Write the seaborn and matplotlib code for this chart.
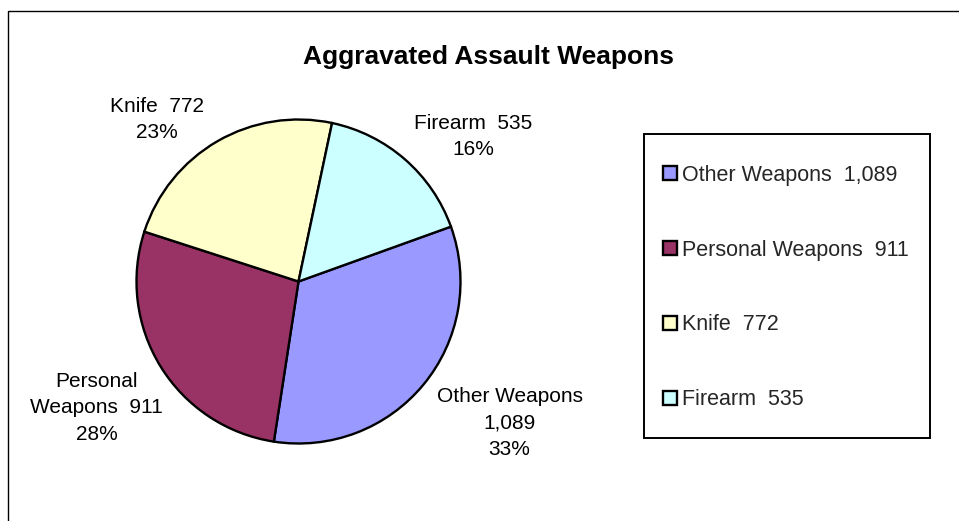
import matplotlib
matplotlib.use("Agg")
import matplotlib.pyplot as plt
import seaborn as sns
import numpy as np
from matplotlib.patches import Rectangle

# ---- data ----
categories = ["Other Weapons", "Personal Weapons", "Knife", "Firearm"]
counts = [1089, 911, 772, 535]
colors = ["#9999FF", "#993366", "#FFFFCC", "#CCFFFF"]
# how the category name wraps in the slice labels
label_names = ["Other Weapons\n", "Personal\nWeapons  ", "Knife  ", "Firearm  "]
title = "Aggravated Assault Weapons"

# ---- layout (pixels) ----
W, H = 959, 521
cx, cy, R = 298.5, 281.5, 162
label_dist = [1.57, 1.47, 1.33, 1.40]      # in radii
label_nudge = [5.6, 0.3, 11.1, -9.2]       # degrees from wedge middle

sns.set_theme(style="white")
plt.rcParams['font.family'] = ['Liberation Sans', 'DejaVu Sans']

fig = plt.figure(figsize=(W / 100, H / 100), dpi=100)
fig.patch.set_facecolor("white")
ax = fig.add_axes([(cx - R) / W, (H - cy - R) / H, 2 * R / W, 2 * R / H])

wedges, _ = ax.pie(counts, colors=colors, startangle=19.8, counterclock=False,
                   wedgeprops=dict(edgecolor="black", linewidth=1.7))
ax.set_xlim(-1, 1)
ax.set_ylim(-1, 1)
ax.set_axis_off()

total = sum(counts)
for w, name, c, d, nd in zip(wedges, label_names, counts, label_dist, label_nudge):
    mid = np.deg2rad((w.theta1 + w.theta2) / 2 + nd)
    txt = f"{name}{c:,}\n{round(100 * c / total)}%"
    ax.text(d * np.cos(mid), d * np.sin(mid), txt, ha="center", va="center",
            multialignment="center", fontsize=15, linespacing=1.5, clip_on=False,
            color="black")

# title
fig.text(488 / W, 1 - 57 / H, title, ha="center", va="center",
         fontsize=19, fontweight="bold", color="black")

# chart-area border
fig.patches.append(Rectangle((8 / W, -0.5), 2, 1 - 11 / H + 0.5,
                             transform=fig.transFigure, fill=False,
                             edgecolor="black", linewidth=1.0))
# legend box
fig.patches.append(Rectangle((644 / W, (H - 438) / H), (930 - 644) / W, (438 - 134) / H,
                             transform=fig.transFigure, fill=False,
                             edgecolor="black", linewidth=1.4))

legend_labels = [f"{n}  {c:,}" for n, c in zip(categories, counts)]
ax.legend(wedges, legend_labels, loc="upper left",
          bbox_to_anchor=(663 / W, 1 - (177.3 - 12.5) / H),
          bbox_transform=fig.transFigure, frameon=False, fontsize=15.5,
          borderpad=0, borderaxespad=0, labelspacing=2.5,
          handlelength=0.65, handleheight=0.65, handletextpad=0.25)

fig.savefig("out.png", dpi=100, facecolor="white")
